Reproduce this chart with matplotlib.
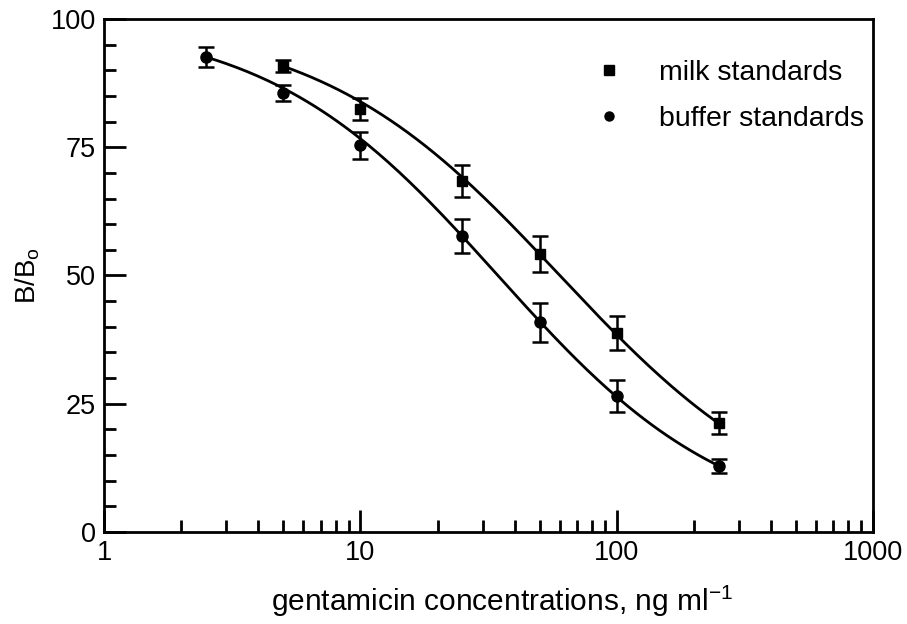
import numpy as np
import matplotlib
matplotlib.use("Agg")
import matplotlib.pyplot as plt
from matplotlib.ticker import MultipleLocator, LogLocator, FixedLocator, NullFormatter

plt.rcParams['font.family'] = ['Liberation Sans', 'DejaVu Sans']
plt.rcParams['mathtext.default'] = 'regular'

# standards (ng/ml) and B/Bo values
milk_conc = [5, 10, 25, 50, 100, 250]
milk_bb0 = [90.8, 82.5, 68.4, 54.2, 38.8, 21.2]
milk_err = [1.2, 2.1, 3.1, 3.5, 3.3, 2.1]

buffer_conc = [2.5, 5, 10, 25, 50, 100, 250]
buffer_bb0 = [92.6, 85.6, 75.4, 57.7, 40.9, 26.5, 12.9]
buffer_err = [1.9, 1.5, 2.6, 3.4, 3.8, 3.1, 1.4]

# four-parameter logistic fits (top, bottom, IC50, slope)
milk_fit = (100.0, 0.0, 60.0, 0.921)
buffer_fit = (100.0, 0.0, 34.4, 0.963)


def logistic4(x, top, bottom, ic50, slope):
    return bottom + (top - bottom) / (1 + (x / ic50) ** slope)


fig = plt.figure(figsize=(9.07, 6.24), dpi=100)
ax = fig.add_axes([0.1147, 0.1474, 0.8478, 0.8222])

# fitted curves
xm = np.logspace(np.log10(milk_conc[0]), np.log10(milk_conc[-1]), 200)
xb = np.logspace(np.log10(buffer_conc[0]), np.log10(buffer_conc[-1]), 200)
ax.plot(xm, logistic4(xm, *milk_fit), color="k", lw=2.0)
ax.plot(xb, logistic4(xb, *buffer_fit), color="k", lw=2.0)

# data with error bars
ax.errorbar(milk_conc, milk_bb0, yerr=milk_err, fmt="s", color="k", ms=7.5,
            capsize=5.5, elinewidth=1.8, capthick=1.8, label="milk standards")
ax.errorbar(buffer_conc, buffer_bb0, yerr=buffer_err, fmt="o", color="k", ms=8,
            capsize=5.5, elinewidth=1.8, capthick=1.8, label="buffer standards")

ax.set_xscale("log")
ax.set_xlim(1, 1000)
ax.set_ylim(0, 100)
ax.xaxis.set_major_locator(FixedLocator([1, 10, 100, 1000]))
ax.xaxis.set_minor_locator(LogLocator(base=10, subs=np.arange(2, 10)))
ax.xaxis.set_minor_formatter(NullFormatter())
ax.set_xticklabels(["1", "10", "100", "1000"])
ax.yaxis.set_major_locator(MultipleLocator(25))
ax.yaxis.set_minor_locator(MultipleLocator(5))

ax.tick_params(which="both", direction="in", width=2, labelsize=19.5)
ax.tick_params(which="major", length=16, pad=6)
ax.tick_params(which="minor", length=8.5)
ax.tick_params(axis="x", which="both", top=False)
ax.tick_params(axis="y", which="both", right=False)
for s in ax.spines.values():
    s.set_linewidth(2)

ax.set_xlabel("gentamicin concentrations, ng ml$^{-1}$", fontsize=21.5)
ax.xaxis.set_label_coords(0.518, -0.1)
ax.set_ylabel("B/B$_o$", fontsize=20, labelpad=6)

# legend markers only, no error bars
h1 = plt.Line2D([], [], marker="s", ls="none", color="k", ms=6.5)
h2 = plt.Line2D([], [], marker="o", ls="none", color="k", ms=6.5)
ax.legend([h1, h2], ["milk standards", "buffer standards"], loc="upper right",
          bbox_to_anchor=(1.022, 0.97), frameon=False, fontsize=20.5,
          handlelength=1.0, handletextpad=1.25, labelspacing=0.7)

fig.savefig("out.png", dpi=100)
